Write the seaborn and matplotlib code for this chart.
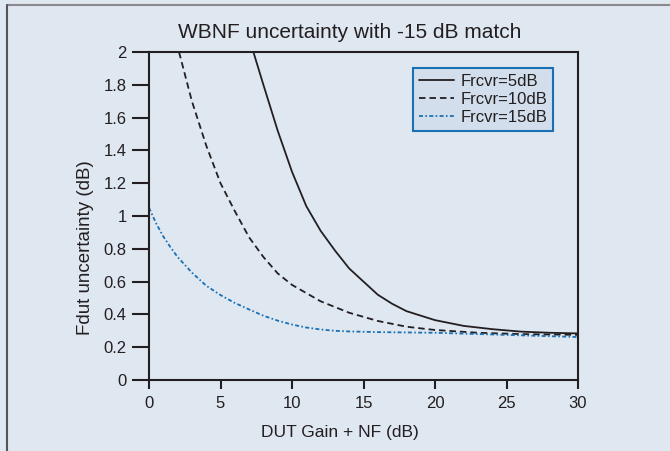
import matplotlib

matplotlib.use("Agg")
import matplotlib.pyplot as plt
import pandas as pd
import seaborn as sns
from matplotlib.lines import Line2D

# values
gain_5 = [7.3, 8, 9, 10, 11, 12, 13, 14, 15, 16, 17, 18, 20, 22, 24, 26, 28, 30]
unc_5 = [2.0, 1.80, 1.52, 1.27, 1.06, 0.91, 0.79, 0.68, 0.60, 0.52, 0.465, 0.42,
         0.365, 0.33, 0.31, 0.295, 0.288, 0.284]

gain_10 = [2.1, 3, 4, 5, 6, 7, 8, 9, 10, 11, 12, 14, 16, 18, 20, 23, 26, 30]
unc_10 = [2.0, 1.70, 1.43, 1.20, 1.03, 0.87, 0.75, 0.65, 0.58, 0.53, 0.48, 0.41,
          0.36, 0.325, 0.305, 0.288, 0.28, 0.275]

gain_15 = [0, 0.5, 1, 1.5, 2, 3, 4, 5, 6, 7, 8, 9, 10, 11, 12, 13, 14, 16, 20, 25, 30]
unc_15 = [1.05, 0.955, 0.875, 0.81, 0.75, 0.655, 0.575, 0.518, 0.47, 0.43, 0.392,
          0.362, 0.338, 0.32, 0.308, 0.30, 0.296, 0.292, 0.288, 0.275, 0.262]

labels = ["Frcvr=5dB", "Frcvr=10dB", "Frcvr=15dB"]
x_ticks = [0, 5, 10, 15, 20, 25, 30]
y_ticks = [0, 0.2, 0.4, 0.6, 0.8, 1, 1.2, 1.4, 1.6, 1.8, 2]

BG = "#dfe7f1"
INK = "#231f20"
BLUE = "#1a70b4"
W, H = 670, 451

df = pd.concat(
    [
        pd.DataFrame({"x": gain_5, "y": unc_5, "series": labels[0]}),
        pd.DataFrame({"x": gain_10, "y": unc_10, "series": labels[1]}),
        pd.DataFrame({"x": gain_15, "y": unc_15, "series": labels[2]}),
    ]
)

sns.set_theme(style="ticks")
plt.rcParams["font.family"] = ["Liberation Sans", "DejaVu Sans"]
plt.rcParams["text.color"] = INK
plt.rcParams["axes.labelcolor"] = INK

fig = plt.figure(figsize=(W / 100, H / 100), dpi=100, facecolor=BG)
ax = fig.add_axes([149 / W, 1 - 380 / H, 429 / W, 328 / H])
ax.set_facecolor(BG)

sns.lineplot(
    data=df,
    x="x",
    y="y",
    hue="series",
    style="series",
    palette={labels[0]: INK, labels[1]: INK, labels[2]: BLUE},
    dashes={labels[0]: "", labels[1]: (3.6, 2.2), labels[2]: (2.2, 1.3, 0.9, 1.3)},
    linewidth=1.3,
    ax=ax,
)

ax.set_xlim(0, 30)
ax.set_ylim(0, 2)
ax.set_xticks(x_ticks)
ax.set_yticks(y_ticks)
ax.set_yticklabels([f"{v:g}" for v in y_ticks])
for s in ax.spines.values():
    s.set_visible(True)
    s.set_linewidth(1.5)
    s.set_color(INK)
ax.tick_params(axis="y", length=12, width=1.5, color=INK, labelsize=12,
               labelcolor=INK, pad=4)
ax.tick_params(axis="x", length=6.5, width=1.5, color=INK, labelsize=12,
               labelcolor=INK, pad=5)

# labels and title sit off the axes centre in the reference, so place them directly
ax.set_xlabel("")
ax.set_ylabel("")
fig.text(340 / W, 1 - 433 / H, "DUT Gain + NF (dB)", fontsize=12.5,
         ha="center", va="center")
fig.text(86 / W, 1 - 248 / H, "Fdut uncertainty (dB)", fontsize=13.5,
         rotation=90, ha="center", va="center")
fig.text(350 / W, 1 - 33 / H, "WBNF uncertainty with -15 dB match", fontsize=15,
         ha="center", va="center")

leg = ax.legend(
    title=None,
    loc="upper right",
    bbox_to_anchor=(0.942, 0.952),
    borderaxespad=0,
    fancybox=False,
    fontsize=12,
    handlelength=2.1,
    labelspacing=0.2,
    borderpad=0.35,
    handletextpad=0.4,
)
frame = leg.get_frame()
frame.set_facecolor("#d2deeb")
frame.set_edgecolor(BLUE)
frame.set_linewidth(1.5)
frame.set_alpha(1)

# outer frame, top and left edges only
fig.add_artist(Line2D([7 / W, 1], [1 - 5 / H, 1 - 5 / H],
                      transform=fig.transFigure, color="#8a8a8e", lw=1.5))
fig.add_artist(Line2D([7 / W, 7 / W], [0, 1 - 5 / H],
                      transform=fig.transFigure, color="#555558", lw=1.5))

fig.savefig("out.png", dpi=100, facecolor=BG)
plt.close(fig)
